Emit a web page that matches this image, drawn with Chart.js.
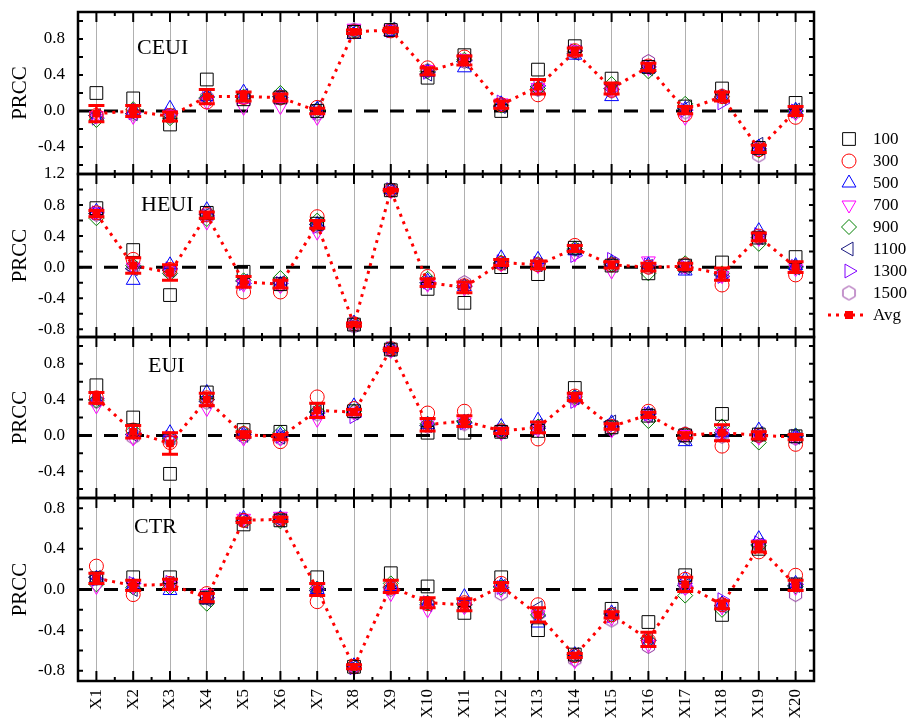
<!DOCTYPE html>
<html>
<head>
<meta charset="utf-8">
<script src="https://cdn.jsdelivr.net/npm/chart.js@4/dist/chart.umd.min.js"></script>
<style>
  body { margin: 0; background: #fff; }
  #wrap { position: relative; width: 910px; height: 720px; overflow: hidden; }
  #wrap canvas.panel { position: absolute; left: 0; }
  #legend { position: absolute; left: 828px; top: 128px; font-family: "Liberation Serif", serif; font-size: 17px; color: #000; }
  #legend .row { position: absolute; left: 0; width: 90px; height: 22px; }
  #legend .row canvas { position: absolute; left: 0; top: 0; }
  #legend .row span { position: absolute; left: 45px; top: 0; line-height: 22px; }
</style>
</head>
<body>
<div id="wrap">
  <canvas class="panel" id="p1" width="910" height="210" style="top:-12px"></canvas>
  <canvas class="panel" id="p2" width="910" height="211" style="top:150px"></canvas>
  <canvas class="panel" id="p3" width="910" height="209" style="top:313px"></canvas>
  <canvas class="panel" id="p4" width="910" height="246" style="top:474px"></canvas>
  <div id="legend"></div>
</div>
<script>
// categories and series names
const categories = ["X1","X2","X3","X4","X5","X6","X7","X8","X9","X10",
                    "X11","X12","X13","X14","X15","X16","X17","X18","X19","X20"];
const sampleSizes = ["100","300","500","700","900","1100","1300","1500"];

// y tick labels of each panel
const ceuiTicks = [-0.4, 0, 0.4, 0.8];
const heuiTicks = [-0.8, -0.4, 0, 0.4, 0.8, 1.2];
const euiTicks = [-0.4, 0, 0.4, 0.8];
const ctrTicks = [-0.8, -0.4, 0, 0.4, 0.8];

// CEUI: one row per sample size
const ceui = [
  [0.20,0.14,-0.15,0.35,0.13,0.15,0.00,0.88,0.90,0.37,0.62,0.00,0.46,0.72,0.36,0.49,0.05,0.25,-0.41,0.09],
  [-0.05,0.00,-0.05,0.10,0.15,0.15,0.04,0.88,0.89,0.48,0.60,0.07,0.18,0.67,0.23,0.50,-0.04,0.16,-0.43,-0.07],
  [-0.08,0.00,0.03,0.16,0.21,0.17,0.02,0.85,0.88,0.43,0.48,0.08,0.24,0.62,0.16,0.47,0.02,0.15,-0.40,0.01],
  [-0.05,-0.06,-0.04,0.10,0.04,0.05,-0.07,0.92,0.91,0.46,0.58,0.09,0.26,0.68,0.24,0.48,-0.07,0.17,-0.42,-0.02],
  [-0.10,0.02,-0.08,0.15,0.16,0.20,0.01,0.89,0.90,0.44,0.57,0.06,0.25,0.66,0.30,0.44,0.08,0.16,-0.44,0.00],
  [-0.05,-0.03,-0.05,0.14,0.17,0.16,0.04,0.88,0.91,0.41,0.55,0.05,0.27,0.64,0.25,0.47,0.03,0.15,-0.37,0.01],
  [-0.08,-0.02,-0.04,0.16,0.16,0.15,-0.02,0.87,0.89,0.43,0.56,0.10,0.28,0.67,0.24,0.49,0.01,0.09,-0.42,0.00],
  [-0.06,-0.03,-0.06,0.15,0.15,0.14,-0.03,0.90,0.90,0.45,0.55,0.07,0.24,0.65,0.22,0.55,-0.01,0.17,-0.49,-0.01]
];
const ceuiAvg = [-0.03,0.00,-0.06,0.16,0.16,0.15,0.00,0.88,0.90,0.44,0.56,0.07,0.27,0.66,0.25,0.49,0.01,0.16,-0.42,0.00];
const ceuiErr = [0.09,0.06,0.05,0.08,0.05,0.04,0.03,0.02,0.02,0.04,0.05,0.04,0.08,0.04,0.06,0.04,0.04,0.05,0.04,0.05];

// HEUI
const heui = [
  [0.76,0.22,-0.36,0.70,-0.06,-0.22,0.56,-0.74,0.99,-0.28,-0.46,0.00,-0.09,0.25,0.02,-0.08,0.02,0.06,0.38,0.13],
  [0.70,0.10,-0.03,0.68,-0.32,-0.32,0.65,-0.73,0.99,-0.12,-0.24,0.05,0.03,0.28,0.03,0.00,0.03,-0.23,0.40,-0.10],
  [0.72,-0.17,0.03,0.74,-0.20,-0.22,0.55,-0.72,1.00,-0.18,-0.25,0.12,0.10,0.21,0.06,0.03,-0.05,-0.12,0.47,0.02],
  [0.71,0.00,-0.05,0.58,-0.22,-0.24,0.45,-0.75,0.98,-0.22,-0.27,0.04,0.02,0.17,-0.05,0.08,0.01,-0.11,0.37,-0.02],
  [0.63,0.02,-0.08,0.62,-0.17,-0.14,0.60,-0.73,0.99,-0.15,-0.24,0.06,0.04,0.24,0.04,-0.08,0.05,-0.08,0.30,0.00],
  [0.69,-0.02,-0.04,0.68,-0.18,-0.20,0.55,-0.74,0.99,-0.20,-0.26,0.05,0.03,0.22,0.04,0.01,-0.01,-0.10,0.38,-0.01],
  [0.70,0.01,-0.02,0.66,-0.21,-0.21,0.52,-0.72,1.00,-0.19,-0.25,0.07,0.05,0.15,0.10,0.03,0.00,-0.12,0.42,0.01],
  [0.68,0.00,-0.06,0.67,-0.20,-0.23,0.53,-0.76,0.99,-0.21,-0.20,0.05,0.03,0.23,0.03,0.00,0.02,-0.10,0.38,0.00]
];
const heuiAvg = [0.69,0.02,-0.07,0.67,-0.19,-0.22,0.55,-0.74,0.99,-0.20,-0.26,0.06,0.03,0.24,0.03,0.00,0.01,-0.09,0.39,0.00];
const heuiErr = [0.04,0.10,0.10,0.04,0.07,0.05,0.05,0.02,0.01,0.05,0.07,0.04,0.05,0.04,0.04,0.05,0.04,0.08,0.05,0.07];

// EUI
const eui = [
  [0.56,0.20,-0.43,0.48,0.06,0.04,0.28,0.27,0.96,0.03,0.03,0.04,0.05,0.53,0.09,0.22,0.00,0.24,0.01,-0.01],
  [0.42,0.06,-0.08,0.42,0.02,-0.07,0.43,0.30,0.97,0.25,0.27,0.05,-0.04,0.44,0.10,0.27,0.01,-0.12,0.00,-0.10],
  [0.40,0.02,0.03,0.48,0.01,0.00,0.25,0.33,0.97,0.12,0.15,0.10,0.17,0.42,0.14,0.24,-0.07,0.03,0.06,-0.01],
  [0.33,-0.03,-0.05,0.30,-0.03,-0.03,0.18,0.26,0.95,0.13,0.15,0.03,0.07,0.40,0.06,0.22,0.01,0.02,-0.02,-0.02],
  [0.39,0.05,-0.04,0.40,0.03,0.03,0.27,0.27,0.96,0.13,0.15,0.06,0.10,0.43,0.09,0.16,0.01,0.10,-0.08,0.00],
  [0.40,0.01,-0.03,0.38,0.00,-0.02,0.26,0.25,0.96,0.11,0.16,0.04,0.11,0.42,0.15,0.23,-0.04,0.03,0.02,-0.02],
  [0.41,0.03,-0.02,0.40,0.01,-0.01,0.25,0.21,0.97,0.12,0.14,0.05,0.08,0.38,0.10,0.24,0.00,0.02,0.01,-0.01],
  [0.38,-0.02,-0.05,0.37,-0.01,-0.03,0.24,0.26,0.95,0.10,0.13,0.04,0.09,0.41,0.07,0.23,0.02,-0.01,-0.01,-0.03]
];
const euiAvg = [0.42,0.04,-0.09,0.40,0.01,-0.02,0.28,0.26,0.96,0.12,0.16,0.05,0.09,0.43,0.10,0.23,0.00,0.03,0.00,-0.02];
const euiErr = [0.06,0.07,0.12,0.07,0.03,0.03,0.08,0.03,0.01,0.07,0.06,0.03,0.06,0.04,0.03,0.03,0.03,0.09,0.04,0.03];

// CTR
const ctr = [
  [0.11,0.12,0.12,-0.08,0.64,0.68,0.12,-0.76,0.16,0.03,-0.23,0.12,-0.40,-0.64,-0.19,-0.32,0.14,-0.25,0.40,0.05],
  [0.23,-0.05,0.06,-0.04,0.68,0.69,-0.12,-0.76,0.02,-0.14,-0.13,0.06,-0.15,-0.65,-0.25,-0.50,0.10,-0.15,0.37,0.14],
  [0.11,0.04,-0.01,-0.10,0.70,0.70,0.00,-0.75,0.03,-0.14,-0.07,0.04,-0.33,-0.64,-0.23,-0.52,0.10,-0.14,0.50,0.06],
  [0.03,0.03,0.04,-0.04,0.70,0.72,0.02,-0.77,-0.04,-0.20,-0.17,0.00,-0.25,-0.70,-0.28,-0.54,0.02,-0.17,0.45,0.02],
  [0.05,0.02,0.02,-0.14,0.68,0.67,0.01,-0.75,0.06,-0.13,-0.15,0.02,-0.25,-0.65,-0.25,-0.50,-0.06,-0.20,0.43,0.03],
  [0.12,0.00,0.06,-0.10,0.67,0.68,-0.01,-0.76,0.02,-0.15,-0.14,0.03,-0.18,-0.64,-0.24,-0.48,0.04,-0.16,0.44,0.04],
  [0.10,0.06,0.07,-0.08,0.69,0.69,0.00,-0.77,0.01,-0.13,-0.15,0.02,-0.26,-0.66,-0.26,-0.50,0.03,-0.10,0.46,0.05],
  [0.11,0.04,0.05,-0.07,0.68,0.70,0.00,-0.76,0.00,-0.14,-0.16,-0.04,-0.24,-0.69,-0.30,-0.56,0.02,-0.15,0.43,-0.05]
];
const ctrAvg = [0.11,0.04,0.05,-0.08,0.68,0.69,0.00,-0.76,0.03,-0.13,-0.15,0.03,-0.25,-0.65,-0.25,-0.49,0.05,-0.15,0.42,0.04];
const ctrErr = [0.05,0.05,0.05,0.04,0.02,0.02,0.06,0.02,0.06,0.05,0.06,0.04,0.07,0.02,0.03,0.07,0.07,0.04,0.05,0.05];

const seriesColors = ["#000000","#ff0000","#0000ff","#ff00ff","#008000","#1a1a80","#8000ff","#8b2a9a"];
const avgColor = "#ff0000";
const serif = "Liberation Serif";
const margin = 24; // room above/below each plot box inside its canvas

// hexagon marker (no built-in style for it)
function hexagon(color) {
  const c = document.createElement("canvas");
  c.width = 17; c.height = 17;
  const g = c.getContext("2d");
  g.strokeStyle = color; g.lineWidth = 1;
  g.beginPath();
  for (let k = 0; k < 6; k++) {
    const a = -Math.PI / 2 + k * Math.PI / 3;
    const px = 8.5 + 7 * Math.cos(a), py = 8.5 + 7 * Math.sin(a);
    k ? g.lineTo(px, py) : g.moveTo(px, py);
  }
  g.closePath(); g.stroke();
  return c;
}

const markers = [
  { style: "rect", rot: 0, r: 9 },
  { style: "circle", rot: 0, r: 7 },
  { style: "triangle", rot: 0, r: 8 },
  { style: "triangle", rot: 180, r: 8 },
  { style: "rectRot", rot: 0, r: 7.5 },
  { style: "triangle", rot: 270, r: 8 },
  { style: "triangle", rot: 90, r: 8 },
  { style: hexagon("#8b2a9a"), rot: 0, r: 7 }
];

// error bars, zero line, inward ticks, frame, panel label
const panelDecor = {
  id: "panelDecor",
  beforeDatasetsDraw(chart) {
    const { ctx, chartArea: a, scales: { y } } = chart;
    const y0 = y.getPixelForValue(0);
    ctx.save();
    ctx.strokeStyle = "#000"; ctx.lineWidth = 3; ctx.setLineDash([14, 12]);
    ctx.beginPath(); ctx.moveTo(a.left, y0); ctx.lineTo(a.right, y0); ctx.stroke();
    ctx.restore();
  },
  afterDatasetsDraw(chart, args, opts) {
    const { ctx, scales: { x, y } } = chart;
    ctx.save();
    ctx.strokeStyle = avgColor;
    opts.avg.forEach((m, i) => {
      const px = x.getPixelForValue(i);
      const hi = y.getPixelForValue(m + opts.err[i]);
      const lo = y.getPixelForValue(m - opts.err[i]);
      ctx.lineWidth = 2.5;
      ctx.beginPath(); ctx.moveTo(px, hi); ctx.lineTo(px, lo); ctx.stroke();
      ctx.lineWidth = 3;
      ctx.beginPath();
      ctx.moveTo(px - 8, hi); ctx.lineTo(px + 8, hi);
      ctx.moveTo(px - 8, lo); ctx.lineTo(px + 8, lo);
      ctx.stroke();
    });
    ctx.restore();
  },
  afterDraw(chart, args, opts) {
    const { ctx, chartArea: a, scales: { x, y } } = chart;
    ctx.save();
    ctx.strokeStyle = "#000"; ctx.lineWidth = 2;
    ctx.beginPath();
    const n = categories.length;
    for (let i = 0; i < n; i++) {
      const px = x.getPixelForValue(i);
      ctx.moveTo(px, a.top); ctx.lineTo(px, a.top + 10);
      ctx.moveTo(px, a.bottom); ctx.lineTo(px, a.bottom - 10);
      if (i < n - 1) {
        const mx = (px + x.getPixelForValue(i + 1)) / 2;
        ctx.moveTo(mx, a.top); ctx.lineTo(mx, a.top + 4);
        ctx.moveTo(mx, a.bottom); ctx.lineTo(mx, a.bottom - 4);
      }
    }
    const k0 = Math.ceil(y.min / 0.2 - 1e-6), k1 = Math.floor(y.max / 0.2 + 1e-6);
    for (let k = k0; k <= k1; k++) {
      const py = y.getPixelForValue(k * 0.2);
      ctx.moveTo(a.left, py); ctx.lineTo(a.left + 5, py);
      ctx.moveTo(a.right, py); ctx.lineTo(a.right - 5, py);
    }
    ctx.stroke();
    ctx.lineWidth = 2.5;
    ctx.strokeRect(a.left, a.top, a.right - a.left, a.bottom - a.top);
    ctx.fillStyle = "#000";
    ctx.font = "22px '" + serif + "'";
    ctx.textBaseline = "alphabetic";
    ctx.fillText(opts.name, a.left + opts.dx, a.top + opts.dy);
    ctx.restore();
  }
};

function makePanel(id, values, avg, err, tickValues, cfg) {
  const datasets = sampleSizes.map((s, k) => ({
    label: s,
    data: values[k],
    showLine: false,
    pointStyle: markers[k].style,
    pointRotation: markers[k].rot,
    pointRadius: markers[k].r,
    pointBorderWidth: 1,
    pointBorderColor: seriesColors[k],
    pointBackgroundColor: "rgba(0,0,0,0)",
    borderColor: seriesColors[k],
    order: 1
  }));
  datasets.push({
    label: "Avg",
    data: avg,
    borderColor: avgColor,
    borderWidth: 3,
    borderDash: [3, 5],
    pointStyle: "rect",
    pointRadius: 5.5,
    pointBorderWidth: 0,
    pointBackgroundColor: avgColor,
    pointBorderColor: avgColor,
    order: 0
  });

  new Chart(document.getElementById(id), {
    type: "line",
    data: { labels: categories, datasets },
    options: {
      responsive: false,
      animation: false,
      events: [],
      layout: { padding: { top: margin, right: 96, bottom: cfg.bottom ? 0 : margin, left: 0 } },
      scales: {
        x: {
          type: "category",
          offset: true,
          grid: { offset: false, color: "#b0b0b0", lineWidth: 1, drawTicks: false },
          border: { display: false },
          ticks: {
            display: !!cfg.bottom,
            autoSkip: false,
            minRotation: 90,
            maxRotation: 90,
            padding: 8,
            color: "#000",
            font: { family: serif, size: 17 }
          },
          afterFit: (s) => { s.height = cfg.bottom ? 39 : 0; }
        },
        y: {
          min: cfg.min,
          max: cfg.max,
          grid: { display: false, drawTicks: false },
          border: { display: false },
          afterBuildTicks: (s) => { s.ticks = tickValues.map((v) => ({ value: v })); },
          ticks: {
            autoSkip: false,
            padding: 13,
            color: "#000",
            font: { family: serif, size: 17 },
            callback: (v) => Number(v).toFixed(1)
          },
          title: {
            display: true,
            text: "PRCC",
            color: "#000",
            font: { family: serif, size: 21 },
            padding: { top: 8, bottom: 0 }
          },
          afterFit: (s) => { s.width = 78; }
        }
      },
      plugins: {
        legend: { display: false },
        tooltip: { enabled: false },
        panelDecor: { avg, err, name: cfg.name, dx: cfg.dx, dy: cfg.dy }
      }
    },
    plugins: [panelDecor]
  });
}

makePanel("p1", ceui, ceuiAvg, ceuiErr, ceuiTicks, { name: "CEUI", min: -0.7, max: 1.1, dx: 59, dy: 42 });
makePanel("p2", heui, heuiAvg, heuiErr, heuiTicks, { name: "HEUI", min: -0.9, max: 1.2, dx: 63, dy: 37 });
makePanel("p3", eui, euiAvg, euiErr, euiTicks, { name: "EUI", min: -0.7, max: 1.1, dx: 70, dy: 35 });
makePanel("p4", ctr, ctrAvg, ctrErr, ctrTicks, { name: "CTR", min: -0.9, max: 0.9, dx: 56, dy: 35, bottom: true });

// legend on the right
const legendBox = document.getElementById("legend");
function legendRow(i, label, draw) {
  const row = document.createElement("div");
  row.className = "row";
  row.style.top = (i * 21.95) + "px";
  const c = document.createElement("canvas");
  c.width = 42; c.height = 22;
  draw(c.getContext("2d"));
  const t = document.createElement("span");
  t.textContent = label;
  row.appendChild(c); row.appendChild(t);
  legendBox.appendChild(row);
}
sampleSizes.forEach((s, k) => {
  legendRow(k, s, (g) => {
    g.strokeStyle = seriesColors[k];
    g.fillStyle = "rgba(0,0,0,0)";
    g.lineWidth = 1;
    Chart.helpers.drawPoint(g, { pointStyle: markers[k].style, rotation: markers[k].rot, radius: markers[k].r, borderWidth: 1 }, 21, 11);
  });
});
legendRow(sampleSizes.length, "Avg", (g) => {
  g.strokeStyle = avgColor; g.lineWidth = 3; g.setLineDash([3, 5]);
  g.beginPath(); g.moveTo(0, 11); g.lineTo(40, 11); g.stroke();
  g.fillStyle = avgColor; g.fillRect(17, 7, 8, 8);
});
</script>
</body>
</html>
